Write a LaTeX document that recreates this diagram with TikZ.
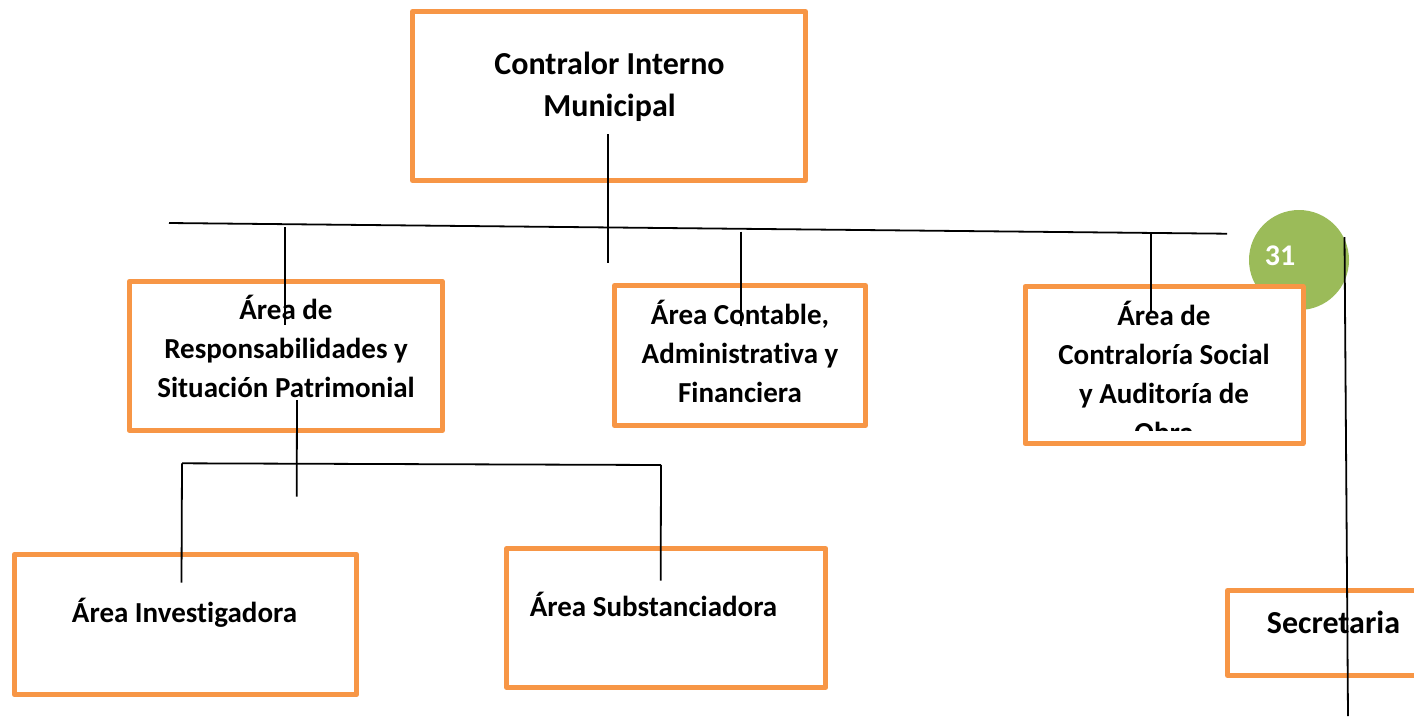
\documentclass[tikz,border=0pt]{standalone}
\usepackage{fontspec}
\setmainfont{Carlito}[Ligatures=NoCommon]
\definecolor{orangeb}{HTML}{F79646}
\definecolor{greenc}{HTML}{9BBB59}
\begin{document}
\begin{tikzpicture}[x=1pt,y=-1pt,
  box/.style={draw=orangeb, line width=5pt, fill=white, rectangle, inner sep=0pt, line join=round},
  lblA/.style={font=\bfseries\fontsize{32}{42}\selectfont, align=center, inner sep=0pt, anchor=base},
  lbl/.style={font=\bfseries\fontsize{29}{38.8}\selectfont, align=center, inner sep=0pt, anchor=base},
  conn/.style={draw=black, line width=1.8pt}]
\useasboundingbox (0,0) rectangle (1414,716);
\fill[white] (0,0) rectangle (1414,716);
% circle
\node[circle, fill=greenc, minimum size=100pt, inner sep=0pt] (pg) at (1299,260) {};
\node[font=\bfseries\fontsize{30}{35}\selectfont, text=white, inner sep=0pt, anchor=base] (pgt) at (1280,265.5) {31};
% boxes
\node[box, minimum width=393pt, minimum height=169pt] (top) at (609,96) {};
\node[box, minimum width=313pt, minimum height=149pt] (resp) at (285.8,355.8) {};
\node[box, minimum width=251pt, minimum height=140pt] (cont) at (740,355.5) {};
\node[box, minimum width=278pt, minimum height=157pt] (soc) at (1164,365) {};
\node[box, minimum width=342pt, minimum height=140.5pt] (inv) at (185.5,624.5) {};
\node[box, minimum width=319pt, minimum height=139pt] (sub) at (666.2,618) {};
\node[box, minimum width=192pt, minimum height=85pt] (sec) at (1323.5,633) {};
% texts (base anchor = baseline of the last line)
\node[lblA] (topt) at (609.5,116) {Contralor Interno\\Municipal};
\node[lbl] (respt) at (286,397) {Área de\\Responsabilidades y\\Situación Patrimonial};
\node[lbl] (contt) at (740,402) {Área Contable,\\Administrativa y\\Financiera};
\begin{scope}
  \clip (1026,287) rectangle (1303,430);
  \node[lbl] (soct) at (1164,442) {Área de\\Contraloría Social\\y Auditoría de\\Obra};
\end{scope}
\node[lbl] (invt) at (184.5,622) {Área Investigadora};
\node[lbl] (subt) at (653.5,616.5) {Área Substanciadora};
\node[lblA] (sect) at (1333.5,633) {Secretaria};
% connector coordinates
\coordinate (a1) at (608.3,134);
\coordinate (a2) at (608.3,262.7);
\coordinate (h1) at (169,223);
\coordinate (h2) at (1227,233.7);
\coordinate (b1) at (285,227);
\coordinate (b2) at (285,325);
\coordinate (c1) at (740.7,231.7);
\coordinate (c2) at (740.7,326);
\coordinate (d1) at (1151,233.3);
\coordinate (d2) at (1151,312.7);
\coordinate (e1) at (1344.5,237);
\coordinate (e2) at (1348,716);
\coordinate (f1) at (297,400);
\coordinate (f2) at (296.7,496.7);
\coordinate (g1) at (182,463.3);
\coordinate (g2) at (661,465);
\coordinate (g3) at (181.5,582.7);
\coordinate (g4) at (660.7,580.7);
% connectors
\draw[conn] (a1) -- (a2);
\draw[conn] (h1) -- (h2);
\draw[conn] (b1) -- (b2);
\draw[conn] (c1) -- (c2);
\draw[conn] (d1) -- (d2);
\draw[conn] (e1) -- (e2);
\draw[conn] (f1) -- (f2);
\draw[conn] (g1) -- (g2);
\draw[conn] (g1) -- (g3);
\draw[conn] (g2) -- (g4);
\end{tikzpicture}
\end{document}
